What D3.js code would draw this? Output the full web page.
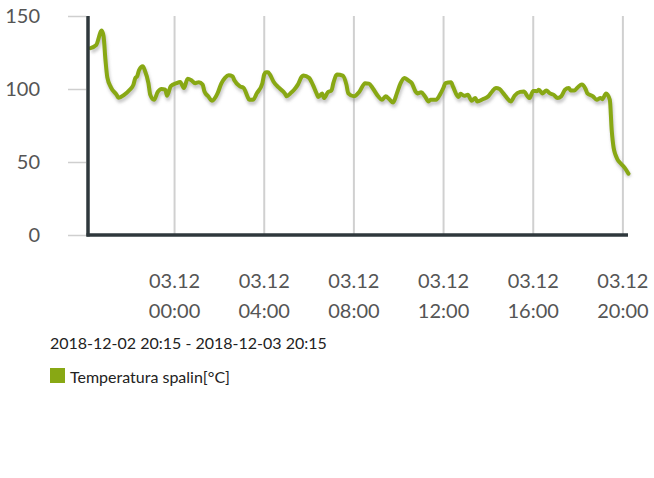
<!DOCTYPE html>
<html><head><meta charset="utf-8">
<script src="https://cdn.jsdelivr.net/npm/d3@7"></script>
<style>body{margin:0;background:#fff;font-family:Lato,sans-serif}</style>
</head><body>
<svg id="c" width="654" height="478"></svg>
<script>
const times = [
"2018-12-02 20:15","2018-12-02 20:30","2018-12-02 20:45","2018-12-02 20:50","2018-12-02 20:55","2018-12-02 21:00","2018-12-02 21:10","2018-12-02 21:25","2018-12-02 21:30","2018-12-02 21:45",
"2018-12-02 22:00","2018-12-02 22:10","2018-12-02 22:15","2018-12-02 22:20","2018-12-02 22:25","2018-12-02 22:35","2018-12-02 22:40","2018-12-02 22:50","2018-12-02 22:55","2018-12-02 23:05",
"2018-12-02 23:15","2018-12-02 23:25","2018-12-02 23:35","2018-12-02 23:40","2018-12-02 23:50",
"2018-12-03 00:05","2018-12-03 00:15","2018-12-03 00:25","2018-12-03 00:35","2018-12-03 00:45","2018-12-03 00:55","2018-12-03 01:05","2018-12-03 01:15","2018-12-03 01:20","2018-12-03 01:30",
"2018-12-03 01:40","2018-12-03 01:55","2018-12-03 02:05","2018-12-03 02:15","2018-12-03 02:25","2018-12-03 02:35","2018-12-03 02:40","2018-12-03 02:55","2018-12-03 03:05","2018-12-03 03:15",
"2018-12-03 03:20","2018-12-03 03:30","2018-12-03 03:40","2018-12-03 03:55","2018-12-03 04:00","2018-12-03 04:05","2018-12-03 04:10","2018-12-03 04:15","2018-12-03 04:25","2018-12-03 04:40",
"2018-12-03 04:55","2018-12-03 05:00","2018-12-03 05:10","2018-12-03 05:20","2018-12-03 05:30","2018-12-03 05:40","2018-12-03 05:45","2018-12-03 06:00","2018-12-03 06:10","2018-12-03 06:20",
"2018-12-03 06:25","2018-12-03 06:35","2018-12-03 06:40","2018-12-03 06:50","2018-12-03 07:00","2018-12-03 07:05","2018-12-03 07:15","2018-12-03 07:30","2018-12-03 07:40","2018-12-03 07:45",
"2018-12-03 08:00","2018-12-03 08:15","2018-12-03 08:30","2018-12-03 08:40","2018-12-03 08:50","2018-12-03 09:05","2018-12-03 09:15","2018-12-03 09:25","2018-12-03 09:35","2018-12-03 09:45",
"2018-12-03 09:55","2018-12-03 10:05","2018-12-03 10:15","2018-12-03 10:25","2018-12-03 10:35","2018-12-03 10:45","2018-12-03 10:50","2018-12-03 11:00","2018-12-03 11:10","2018-12-03 11:20",
"2018-12-03 11:25","2018-12-03 11:40","2018-12-03 11:50","2018-12-03 12:00","2018-12-03 12:05","2018-12-03 12:20","2018-12-03 12:25","2018-12-03 12:40","2018-12-03 12:45","2018-12-03 12:55",
"2018-12-03 13:05","2018-12-03 13:15","2018-12-03 13:25","2018-12-03 13:30","2018-12-03 13:45","2018-12-03 14:00","2018-12-03 14:10","2018-12-03 14:20","2018-12-03 14:30","2018-12-03 14:40",
"2018-12-03 14:50","2018-12-03 15:00","2018-12-03 15:10","2018-12-03 15:25","2018-12-03 15:35","2018-12-03 15:45","2018-12-03 15:50","2018-12-03 16:00","2018-12-03 16:10","2018-12-03 16:15",
"2018-12-03 16:25","2018-12-03 16:35","2018-12-03 16:45","2018-12-03 16:55","2018-12-03 17:05","2018-12-03 17:15","2018-12-03 17:25","2018-12-03 17:35","2018-12-03 17:40","2018-12-03 17:50",
"2018-12-03 18:00","2018-12-03 18:10","2018-12-03 18:20","2018-12-03 18:25","2018-12-03 18:40","2018-12-03 18:50","2018-12-03 19:00","2018-12-03 19:05","2018-12-03 19:15","2018-12-03 19:25",
"2018-12-03 19:30","2018-12-03 19:35","2018-12-03 19:40","2018-12-03 19:45","2018-12-03 19:55","2018-12-03 20:05","2018-12-03 20:15"
];
const values = [
128,130,140,136,120,108,101,96,94,96,
99.5,103,107.6,108.7,113,115.6,113,104,96,92.6,
98,100,99.5,95.4,102,
104,104.8,100.7,107,106,104,104.6,103,98.3,95,
92,97,103.7,107.6,109.4,108.7,106,101.8,100.7,95,
92.6,92.6,97,104,110,111.5,111.5,110,105,100.7,
97,95,97,99.5,103,108.3,109.2,107.6,103,97,
94.5,97,93.8,97.7,99,104,110,109.2,103,97,
95,98.3,104,103.7,100.7,95,92.6,95,93,90.8,
97,104,107.6,106,104,98.3,97,97.7,95,91.5,
92.6,92.6,96,101,104,104.6,101.8,94.5,96.7,95.4,
96,92,93.8,91.5,93,95,98.3,100.7,100,97,
93.8,91.5,95.4,98,98.3,95,93.8,98.7,98.5,99.5,
97,99,97,96,93.8,95,99.5,100.7,99,99,
101.4,103,100,97,95,92.6,93.8,93,97,92.6,
72,60,55,52,48.8,46,42
];
const yTicks = [0, 50, 100, 150];
const xTicks = ["2018-12-03 00:00","2018-12-03 04:00","2018-12-03 08:00","2018-12-03 12:00","2018-12-03 16:00","2018-12-03 20:00"];
const rangeStart = "2018-12-02 20:15";
const rangeEnd = "2018-12-03 20:15";
const seriesName = "Temperatura spalin[°C]";

const parse = d3.timeParse("%Y-%m-%d %H:%M");
const data = times.map((t, i) => ({t: parse(t), v: values[i]}));
const color = "#88a814";

const svg = d3.select("#c");
const x = d3.scaleTime().domain([parse(rangeStart), parse(rangeEnd)]).range([90.5, 628.5]);
const y = d3.scaleLinear().domain([0, 150]).range([235, 16]);

const defs = svg.append("defs");
const f = defs.append("filter").attr("id", "blur").attr("x", "-5%").attr("y", "-10%").attr("width", "110%").attr("height", "130%");
f.append("feGaussianBlur").attr("stdDeviation", 1.4);

// vertical grid lines
svg.append("g").selectAll("line").data(xTicks).join("line")
  .attr("x1", d => x(parse(d))).attr("x2", d => x(parse(d)))
  .attr("y1", 16).attr("y2", 235)
  .attr("stroke", "#d0d0d0").attr("stroke-width", 2);

// y ticks
const yAxis = d3.axisLeft(y).tickValues(yTicks).tickSize(18).tickPadding(28);
const gy = svg.append("g").attr("transform", "translate(86,0)").call(yAxis);
gy.select(".domain").remove();
gy.selectAll(".tick line").attr("stroke", "#cfcfcf").attr("stroke-width", 1.5);
gy.selectAll(".tick text").attr("font-family", "Lato, sans-serif").attr("font-size", 20).attr("fill", "#555");

// x tick labels
const gx = svg.append("g");
gx.selectAll("text.d").data(xTicks).join("text")
  .attr("x", d => x(parse(d))).attr("y", 288)
  .attr("text-anchor", "middle").attr("font-size", 20).attr("fill", "#555")
  .text(d => d3.timeFormat("%d.%m")(parse(d)));
gx.selectAll("text.h").data(xTicks).join("text")
  .attr("x", d => x(parse(d))).attr("y", 318)
  .attr("text-anchor", "middle").attr("font-size", 20).attr("fill", "#555")
  .text(d => d3.timeFormat("%H:%M")(parse(d)));

// line
const line = d3.line().x(d => x(d.t)).y(d => y(d.v)).curve(d3.curveMonotoneX);
svg.append("path").datum(data).attr("d", line)
  .attr("fill", "none").attr("stroke", "#888").attr("stroke-opacity", 0.45)
  .attr("stroke-width", 4.5).attr("transform", "translate(1,3)").attr("filter", "url(#blur)");
svg.append("path").datum(data).attr("d", line)
  .attr("fill", "none").attr("stroke", color).attr("stroke-width", 4)
  .attr("stroke-linejoin", "round").attr("stroke-linecap", "round");

// axes lines
svg.append("line").attr("x1", 88).attr("x2", 88).attr("y1", 16).attr("y2", 236.5)
  .attr("stroke", "#2f383c").attr("stroke-width", 3.5);
svg.append("line").attr("x1", 86.5).attr("x2", 628).attr("y1", 235).attr("y2", 235)
  .attr("stroke", "#2f383c").attr("stroke-width", 3.5);

// range text
const fmt = d3.timeFormat("%Y-%m-%d %H:%M");
svg.append("text").attr("x", 50).attr("y", 349).attr("font-size", 16).attr("fill", "#222")
  .text(fmt(parse(rangeStart)) + " - " + fmt(parse(rangeEnd)));

// legend
svg.append("rect").attr("x", 50).attr("y", 368).attr("width", 15).attr("height", 15).attr("fill", color);
svg.append("text").attr("x", 70).attr("y", 383).attr("font-size", 16).attr("fill", "#222").text(seriesName);
</script>
</body></html>
